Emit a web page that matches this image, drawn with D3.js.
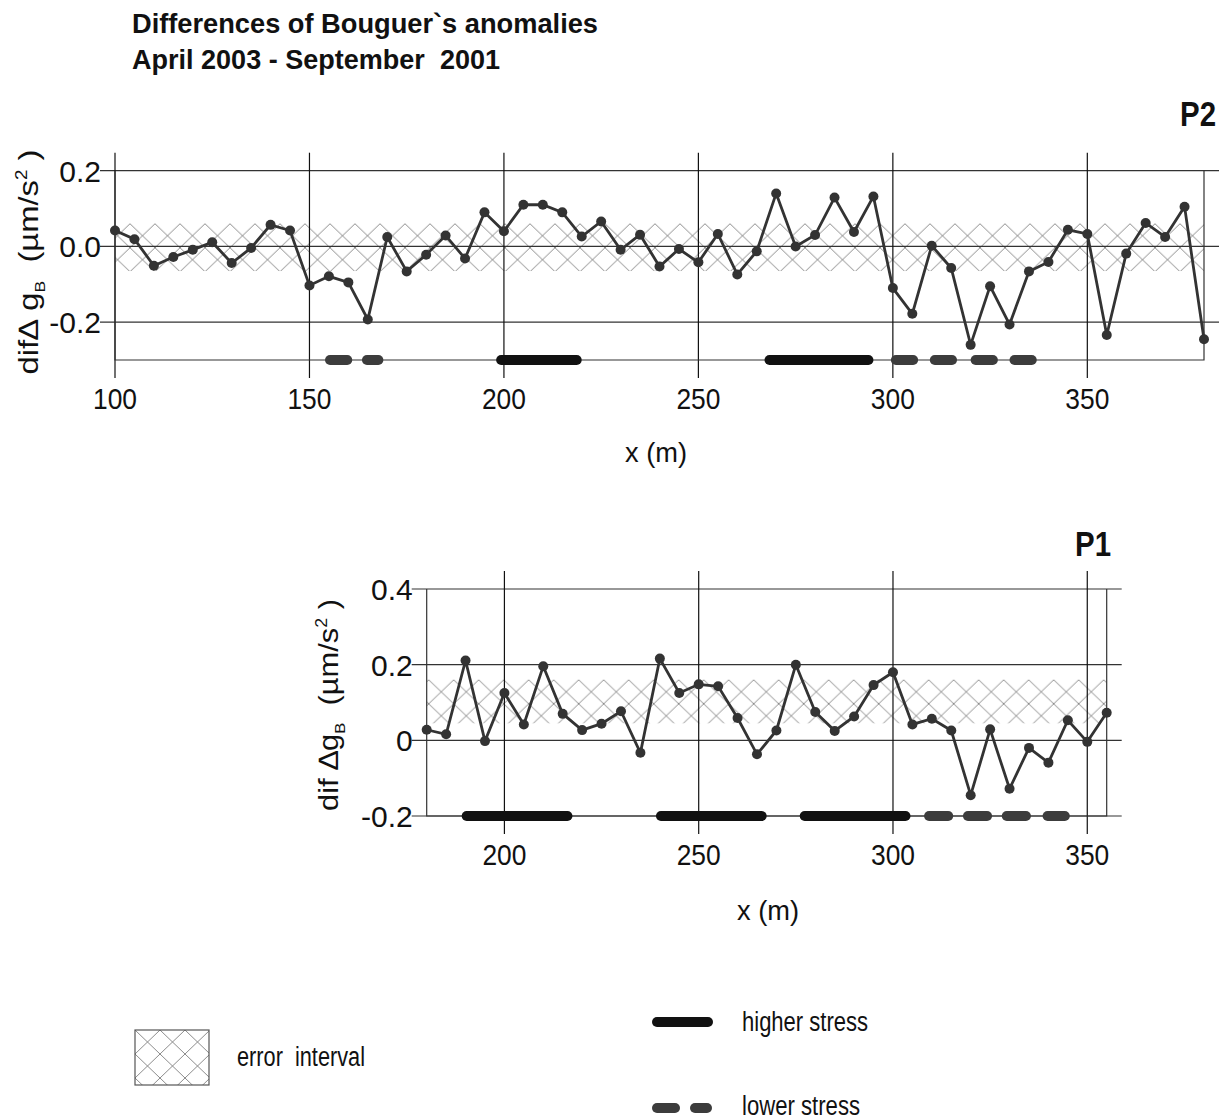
<!DOCTYPE html>
<html>
<head>
<meta charset="utf-8">
<script src="https://cdn.jsdelivr.net/npm/d3@7"></script>
<style>
body { margin: 0; background: #fff; }
text { font-family: "Liberation Sans", Arial, sans-serif; fill: #111; }
.bold { font-weight: bold; }
</style>
</head>
<body>
<script>
// P2 profile
var p2Dist = [100,105,110,115,120,125,130,135,140,145,150,155,160,165,170,175,180,185,190,195,
              200,205,210,215,220,225,230,235,240,245,250,255,260,265,270,275,280,285,290,295,
              300,305,310,315,320,325,330,335,340,345,350,355,360,365,370,375,380];
var p2Diff = [0.042,0.019,-0.051,-0.028,-0.009,0.011,-0.044,-0.004,0.057,0.042,-0.103,-0.079,-0.095,-0.193,0.025,-0.066,-0.022,0.029,-0.032,0.09,
              0.04,0.11,0.11,0.09,0.026,0.066,-0.009,0.031,-0.053,-0.007,-0.042,0.033,-0.074,-0.013,0.14,0.0,0.03,0.129,0.038,0.132,
              -0.11,-0.178,0.002,-0.057,-0.26,-0.105,-0.206,-0.066,-0.041,0.044,0.033,-0.234,-0.019,0.062,0.025,0.105,-0.245];
var p2Band = [-0.065, 0.06];
var p2Higher = [[198,220],[267,295]];
var p2Lower = [[154,161],[163.5,169],[299.5,306.5],[309.5,316.5],[320,327],[330,337]];
var p2XTicks = [100,150,200,250,300,350];
var p2YTicks = [0.2,0,-0.2];
var p2YLabels = ["0.2","0.0","-0.2"];

// P1 profile
var p1Dist = [180,185,190,195,200,205,210,215,220,225,230,235,240,245,250,255,260,265,
              270,275,280,285,290,295,300,305,310,315,320,325,330,335,340,345,350,355];
var p1Diff = [0.028,0.016,0.211,-0.002,0.125,0.042,0.196,0.07,0.027,0.044,0.077,-0.033,0.216,0.125,0.148,0.143,0.059,-0.037,
              0.026,0.2,0.075,0.025,0.063,0.146,0.18,0.042,0.057,0.026,-0.145,0.029,-0.128,-0.02,-0.059,0.053,-0.004,0.073];
var p1Band = [0.045, 0.16];
var p1Higher = [[189,217.5],[239,267.5],[276,304.5]];
var p1Lower = [[308,315.5],[318,325.5],[328,335.5],[338.5,345.5]];
var p1XTicks = [200,250,300,350];
var p1YTicks = [0.4,0.2,0,-0.2];
var p1YLabels = ["0.4","0.2","0","-0.2"];

var titleLines = ["Differences of Bouguer`s anomalies", "April 2003 - September  2001"];
var legendLabels = ["error  interval", "higher stress", "lower stress"];

var width = 1225, height = 1120;
var lineColor = "#333", gridColor = "#333", hatchColor = "#8c8c8c";

var svg = d3.select("body").append("svg")
    .attr("width", width)
    .attr("height", height);

var defs = svg.append("defs");

function hatch(id, x0, y0) {
    var p = defs.append("pattern")
        .attr("id", id)
        .attr("patternUnits", "userSpaceOnUse")
        .attr("width", 25).attr("height", 24)
        .attr("x", x0).attr("y", y0);
    p.append("path")
        .attr("d", "M-1,-0.96L26,24.96M26,-0.96L-1,24.96")
        .attr("stroke", hatchColor)
        .attr("stroke-width", 1)
        .attr("fill", "none");
}

// squeeze a text to a given length
function fit(t, len) {
    t.attr("textLength", len).attr("lengthAdjust", "spacingAndGlyphs");
    return t;
}

function stressBars(g, x, yPos, ranges, color) {
    g.selectAll(null)
        .data(ranges)
        .enter().append("line")
        .attr("x1", function(d) { return x(d[0]) + 5; })
        .attr("x2", function(d) { return x(d[1]) - 5; })
        .attr("y1", yPos).attr("y2", yPos)
        .attr("stroke", color)
        .attr("stroke-width", 10)
        .attr("stroke-linecap", "round");
}

function yTitle(g, cx, cy, len, spaced) {
    var t = g.append("text")
        .attr("text-anchor", "middle")
        .style("font-size", "28px")
        .style("white-space", "pre");
    t.append("tspan").text(spaced ? "dif \u2206g" : "dif\u2206 g");
    t.append("tspan").attr("dy", 7).style("font-size", "15px").text("B");
    t.append("tspan").attr("dy", -7).text("  (\u00b5m/s");
    t.append("tspan").attr("dy", -11).style("font-size", "16px").text("2");
    t.append("tspan").attr("dy", 11).text(" )");
    var w = t.node().getBBox().width;
    t.attr("transform", "translate(" + cx + "," + cy + ") rotate(-90) scale(" + (len / w) + ",1)");
}

function drawPanel(o) {
    var x = d3.scaleLinear().domain(o.xDomain).range([o.left, o.right]);
    var y = d3.scaleLinear().domain(o.yDomain).range([o.bottom, o.top]);
    var g = svg.append("g");
    var yTop = y(o.yDomain[1]), yBot = y(o.yDomain[0]);

    // error interval
    hatch(o.id, o.left + o.hatchShift, y(o.band[1]));
    g.append("rect")
        .attr("x", x(o.xDomain[0]))
        .attr("y", y(o.band[1]))
        .attr("width", x(o.xDomain[1]) - x(o.xDomain[0]))
        .attr("height", y(o.band[0]) - y(o.band[1]))
        .attr("fill", "url(#" + o.id + ")");

    // horizontal grid
    g.selectAll(null)
        .data(o.yTicks)
        .enter().append("line")
        .attr("x1", o.left - 15).attr("x2", o.right + 15)
        .attr("y1", function(d) { return y(d); })
        .attr("y2", function(d) { return y(d); })
        .attr("stroke", gridColor).attr("stroke-width", 1.2);

    // vertical grid
    g.selectAll(null)
        .data(o.xTicks)
        .enter().append("line")
        .attr("x1", function(d) { return x(d); })
        .attr("x2", function(d) { return x(d); })
        .attr("y1", yTop - 18).attr("y2", yBot + 18)
        .attr("stroke", "#111").attr("stroke-width", 1.2);

    // frame
    g.append("path")
        .attr("d", "M" + o.left + "," + yTop + "V" + yBot + "H" + o.right + "V" + yTop)
        .attr("fill", "none")
        .attr("stroke", gridColor).attr("stroke-width", 1.2);

    stressBars(g, x, yBot, o.higher, "#111");
    stressBars(g, x, yBot, o.lower, "#3c3c3c");

    var pts = o.dist.map(function(d, i) { return [d, o.diff[i]]; });
    var line = d3.line()
        .x(function(d) { return x(d[0]); })
        .y(function(d) { return y(d[1]); });
    g.append("path")
        .datum(pts)
        .attr("d", line)
        .attr("fill", "none")
        .attr("stroke", lineColor)
        .attr("stroke-width", 2.8);
    g.selectAll(null)
        .data(pts)
        .enter().append("circle")
        .attr("cx", function(d) { return x(d[0]); })
        .attr("cy", function(d) { return y(d[1]); })
        .attr("r", 5)
        .attr("fill", lineColor);

    // tick labels
    g.selectAll(null)
        .data(o.xTicks)
        .enter().append("text")
        .attr("x", function(d) { return x(d); })
        .attr("y", yBot + 49)
        .attr("text-anchor", "middle")
        .style("font-size", "30px")
        .text(function(d) { return d; })
        .attr("textLength", 44).attr("lengthAdjust", "spacingAndGlyphs");
    g.selectAll(null)
        .data(o.yTicks)
        .enter().append("text")
        .attr("x", o.left - 14)
        .attr("y", function(d) { return y(d) + 11; })
        .attr("text-anchor", "end")
        .style("font-size", "30px")
        .text(function(d, i) { return o.yLabels[i]; });

    g.append("text")
        .attr("x", o.xTitle[0]).attr("y", o.xTitle[1])
        .attr("text-anchor", "middle")
        .style("font-size", "28px")
        .text("x (m)")
        .call(fit, 62);

    yTitle(g, o.yTitlePos[0], o.yTitlePos[1], o.yTitleLen, o.spaced);

    g.append("text")
        .attr("x", o.namePos[0]).attr("y", o.namePos[1])
        .attr("text-anchor", "end")
        .attr("class", "bold")
        .style("font-size", "35px")
        .text(o.name)
        .call(fit, 36);
}

// title
svg.selectAll(".title")
    .data(titleLines)
    .enter().append("text")
    .attr("class", "bold")
    .attr("x", 132)
    .attr("y", function(d, i) { return 33 + i * 36; })
    .style("font-size", "28px")
    .style("white-space", "pre")
    .text(function(d) { return d; })
    .attr("textLength", function(d, i) { return i === 0 ? 466 : 368; })
    .attr("lengthAdjust", "spacingAndGlyphs");

drawPanel({
    id: "hatchP2", name: "P2", dist: p2Dist, diff: p2Diff, band: p2Band,
    higher: p2Higher, lower: p2Lower,
    xTicks: p2XTicks, yTicks: p2YTicks, yLabels: p2YLabels,
    xDomain: [100, 380], yDomain: [-0.3, 0.2],
    left: 115, right: 1204, top: 170.7, bottom: 360, hatchShift: 15,
    xTitle: [656, 462], yTitlePos: [38, 262], yTitleLen: 225,
    namePos: [1216, 126], spaced: false
});

drawPanel({
    id: "hatchP1", name: "P1", dist: p1Dist, diff: p1Diff, band: p1Band,
    higher: p1Higher, lower: p1Lower,
    xTicks: p1XTicks, yTicks: p1YTicks, yLabels: p1YLabels,
    xDomain: [180, 355], yDomain: [-0.2, 0.4],
    left: 426.7, right: 1106.7, top: 589, bottom: 816, hatchShift: 2,
    xTitle: [768, 920], yTitlePos: [338, 705], yTitleLen: 212,
    namePos: [1111, 556], spaced: true
});

// legend
var leg = svg.append("g");
hatch("hatchLeg", 135, 1030);
leg.append("rect")
    .attr("x", 135).attr("y", 1030).attr("width", 74).attr("height", 55)
    .attr("fill", "url(#hatchLeg)")
    .attr("stroke", "#555").attr("stroke-width", 1.2);
leg.append("text").attr("x", 237).attr("y", 1066).style("font-size", "27px")
    .style("white-space", "pre").text(legendLabels[0]).call(fit, 128);
leg.append("line").attr("x1", 657).attr("x2", 708).attr("y1", 1022).attr("y2", 1022)
    .attr("stroke", "#111").attr("stroke-width", 10).attr("stroke-linecap", "round");
leg.append("text").attr("x", 742).attr("y", 1031).style("font-size", "27px")
    .text(legendLabels[1]).call(fit, 126);
leg.append("line").attr("x1", 657).attr("x2", 675).attr("y1", 1108).attr("y2", 1108)
    .attr("stroke", "#3c3c3c").attr("stroke-width", 10).attr("stroke-linecap", "round");
leg.append("line").attr("x1", 695).attr("x2", 707).attr("y1", 1108).attr("y2", 1108)
    .attr("stroke", "#3c3c3c").attr("stroke-width", 10).attr("stroke-linecap", "round");
leg.append("text").attr("x", 742).attr("y", 1115).style("font-size", "27px")
    .text(legendLabels[2]).call(fit, 118);
</script>
</body>
</html>
